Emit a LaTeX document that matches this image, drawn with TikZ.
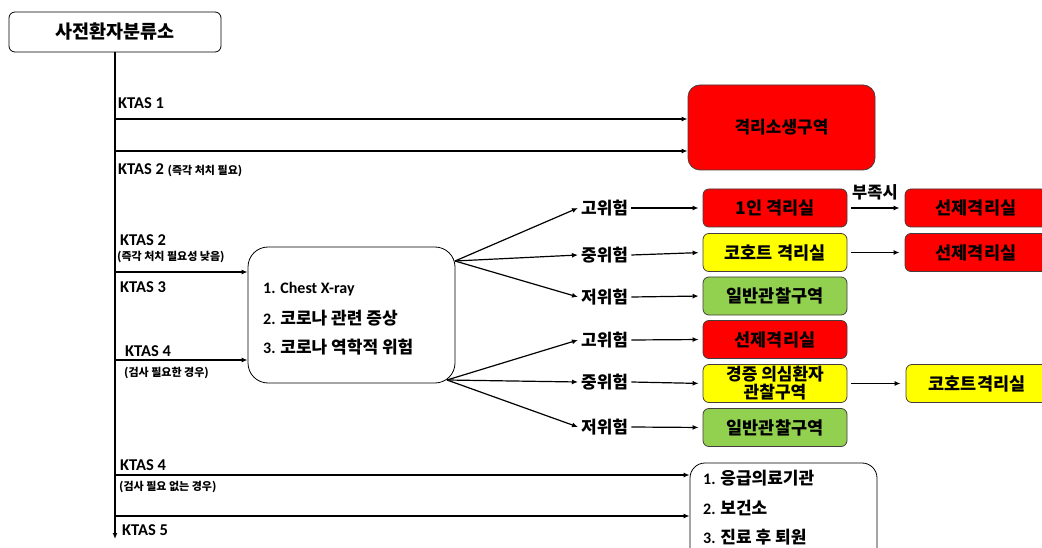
\documentclass[tikz,border=0pt]{standalone}
\usepackage{fontspec}
\setmainfont{Carlito}
\newfontfamily\kr{Noto Sans CJK KR}
\usetikzlibrary{arrows.meta}
\definecolor{cred}{RGB}{255,0,0}
\definecolor{cyel}{RGB}{255,255,0}
\definecolor{cgrn}{RGB}{146,208,80}
\definecolor{cedge}{RGB}{70,60,60}
\newcommand\fsz[1]{\fontsize{#1}{#1}\selectfont}
\begin{document}
\begin{tikzpicture}[x=1pt,y=-1pt,
  arr/.style={-{Latex[length=6pt,width=5pt]}, line width=1.2pt},
  ktas/.style={anchor=west, inner sep=0pt, font=\bfseries\fsz{16.5}},
  ksub/.style={anchor=west, inner sep=0pt, font=\kr\bfseries\fsz{11}},
  risk/.style={anchor=west, inner sep=3pt, font=\kr\bfseries\fsz{17}},
  cbox/.style={draw=cedge, line width=0.8pt, rounded corners=6pt, minimum width=144pt, minimum height=38pt, font=\kr\bfseries\fsz{17.5}, inner sep=1pt},
  rbox/.style={cbox, fill=cred},
  ybox/.style={cbox, fill=cyel},
  gbox/.style={cbox, fill=cgrn},
  rbig/.style={cbox, fill=cred, minimum width=142pt},
  inbox/.style={anchor=west, inner sep=0pt, font=\fsz{16}}
]
\clip (0,0) rectangle (1042,548);
\fill[white] (0,0) rectangle (1042,548);

% top box and trunk
\node[draw, line width=0.8pt, rounded corners=6pt, minimum width=212pt, minimum height=40pt, font=\kr\bfseries\fsz{18.5}] (pre) at (115,32) {사전환자분류소};
\coordinate (tend) at (115,539);
\draw[arr] (pre.south) -- (tend);
\coordinate (k1) at (115,119);
\coordinate (k2) at (115,151);
\coordinate (k3) at (115,272);
\coordinate (k4) at (115,360);
\coordinate (k5) at (115,475);
\coordinate (k6) at (115,516);

% KTAS labels
\node[ktas] (lk1) at (118,103) {KTAS 1};
\node[ktas] (lk2) at (118,170) {KTAS 2 {\kr\fsz{11}(즉각 처치 필요)}};
\node[ktas] (lk2b) at (120,240) {KTAS 2};
\node[ksub] (lk2c) at (117,257) {(즉각 처치 필요성 낮음)};
\node[ktas] (lk3) at (120,287) {KTAS 3};
\node[ktas] (lk4) at (125,351) {KTAS 4};
\node[ksub] (lk4b) at (124,373) {(검사 필요한 경우)};
\node[ktas] (lk4c) at (120,465) {KTAS 4};
\node[ksub] (lk4d) at (119,487) {(검사 필요 없는 경우)};
\node[ktas] (lk5) at (122,530) {KTAS 5};

% big red box
\node[cbox, fill=cred, minimum width=187pt, minimum height=85pt, rounded corners=12pt, font=\kr\bfseries\fsz{17}] (iso) at (781.5,127.5) {격리소생구역};
\draw[arr] (k1) -- (k1 -| iso.west);
\draw[arr] (k2) -- (k2 -| iso.west);

% checklist box
\node[draw, line width=0.8pt, rounded corners=20pt, minimum width=207pt, minimum height=136pt] (chk) at (351.5,315) {};
\node[inbox] (c1) at (263,289) {\bfseries 1. Chest X-ray};
\node[inbox] (c2) at (263,318) {\bfseries 2. {\kr\fsz{17}코로나 관련 증상}};
\node[inbox] (c3) at (263,347) {\bfseries 3. {\kr\fsz{17}코로나 역학적 위험}};
\draw[arr] (k3) -- (k3 -| chk.west);
\draw[arr] (k4) -- (k4 -| chk.west);

% fans
\coordinate (f1) at (455,261);
\coordinate (f2) at (447,380);
\node[risk] (h1) at (578,208) {고위험};
\node[risk] (m1) at (578,255) {중위험};
\node[risk] (l1) at (578,297) {저위험};
\node[risk] (h2) at (578,340) {고위험};
\node[risk] (m2) at (578,382) {중위험};
\node[risk] (l2) at (578,427) {저위험};
\foreach \t in {h1,m1,l1} \draw[arr] (f1) -- (\t.west);
\foreach \t in {h2,m2,l2} \draw[arr] (f2) -- (\t.west);

% colored boxes
\node[rbox] (b1) at (775,208) {1인 격리실};
\node[ybox] (b2) at (775,252.5) {코호트 격리실};
\node[gbox] (b3) at (775,296) {일반관찰구역};
\node[rbox] (b4) at (775,339.5) {선제격리실};
\node[ybox, align=center, font=\kr\bfseries\fontsize{17}{18}\selectfont] (b5) at (775,383.5) {경증 의심환자\\관찰구역};
\node[gbox] (b6) at (775,427.5) {일반관찰구역};
\draw[arr, shorten >=4pt] (h1.east) -- (b1.west);
\draw[arr, shorten >=4pt] (m1.east) -- (b2.west);
\draw[arr, shorten >=4pt] (l1.east) -- (b3.west);
\draw[arr, shorten >=4pt] (h2.east) -- (b4.west);
\draw[arr, shorten >=4pt] (m2.east) -- (b5.west);
\draw[arr, shorten >=4pt] (l2.east) -- (b6.west);

% right column
\node[rbig] (r1) at (976,208) {선제격리실};
\node[rbig] (r2) at (976,252.5) {선제격리실};
\node[cbox, fill=cyel, minimum width=142pt] (r3) at (977,383.5) {코호트격리실};
\draw[arr, shorten <=4pt, shorten >=5pt] (b1.east) -- (r1.west);
\node[font=\kr\bfseries\fsz{16.5}, inner sep=0pt] (short) at (875,192) {부족시};
\draw[arr, shorten <=4pt, shorten >=5pt] (b2.east) -- (r2.west);
\draw[arr, shorten <=4pt, shorten >=5pt] (b5.east) -- (r3.west);

% bottom destination box
\node[draw, line width=0.8pt, rounded corners=15pt, minimum width=187pt, minimum height=100pt] (dest) at (783.5,513) {};
\node[inbox] (d1) at (703,478) {\bfseries 1. {\kr\bfseries\fsz{17}응급의료기관}};
\node[inbox] (d2) at (703,508) {\bfseries 2. {\kr\bfseries\fsz{17}보건소}};
\node[inbox] (d3) at (703,537) {\bfseries 3. {\kr\bfseries\fsz{17}진료 후 퇴원}};
\draw[arr] (k5) -- (k5 -| dest.west);
\draw[arr] (k6) -- (k6 -| dest.west);
\end{tikzpicture}
\end{document}
